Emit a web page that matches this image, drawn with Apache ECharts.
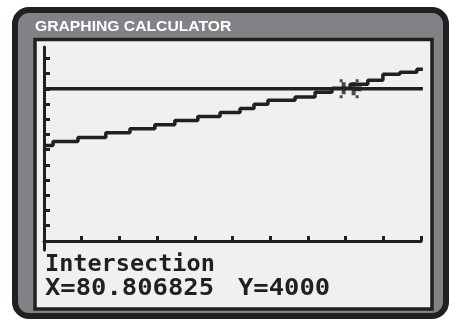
<!DOCTYPE html>
<html><head><meta charset="utf-8">
<script src="https://cdn.jsdelivr.net/npm/echarts@6/dist/echarts.min.js"></script>
<style>html,body{margin:0;padding:0;background:#ffffff}#c{width:449px;height:321px}</style>
</head><body><div id="c"></div>
<script>
// ---- data ----
const titleText = 'GRAPHING CALCULATOR';
const statusLabel = 'Intersection';
const intersectX = 80.806825;
const intersectY = 4000;
// stair-stepped graph of the rising curve (start of each pixel step, value of that step)
const stepX = [0, 2.4, 9.0, 16.4, 22.8, 29.4, 34.7, 40.8, 46.7, 52.0, 55.7, 59.4, 66.6, 71.9, 76.4, 81.2, 85.9, 89.9, 94.4, 98.9, 100.5];
const stepY = [2508, 2614, 2719, 2844, 2949, 3055, 3168, 3274, 3380, 3485, 3591, 3696, 3784, 3908, 4013, 4119, 4224, 4383, 4436, 4515, 4515];
// horizontal line y = 4000
const levelX = [0, 100.5];
const levelY = [4000, 4000];
// tick marks (Xscl = 10, Yscl = 400)
const xTickValues = [10, 20, 30, 40, 50, 60, 70, 80, 90, 100];
const yTickValues = [400, 800, 1200, 1600, 2000, 2400, 2800, 3200, 3600, 4000, 4400, 4800];

const INK = '#231f20', BEZEL = '#808285', SCREEN = '#eef0f2';

const chart = echarts.init(document.getElementById('c'), null, {renderer: 'canvas'});
const cursorPath = 'path://M2,0h3v3h-3z M4,3h4v12h-4z M2,16h3v3h-3z M14,3h4v13h-4z M18,0h3v3h-3z M18,16h3v3h-3z M17,7h7v5h-7z';

chart.setOption({
  animation: false,
  backgroundColor: '#ffffff',
  grid: {left: 44, right: 28, top: 47, bottom: 71, containLabel: false},
  xAxis: {
    type: 'value', min: 0, max: 100,
    axisLine: {show: true, onZero: true, lineStyle: {color: INK, width: 3}},
    axisTick: {show: true, inside: true, length: 5, customValues: xTickValues, lineStyle: {color: INK, width: 3}},
    axisLabel: {show: false}, splitLine: {show: false}
  },
  yAxis: {
    type: 'value', min: -240, max: 5100,
    axisLine: {show: true, onZero: true, lineStyle: {color: INK, width: 3}},
    axisTick: {show: true, inside: true, length: 6, customValues: yTickValues, lineStyle: {color: INK, width: 3}},
    axisLabel: {show: false}, splitLine: {show: false}
  },
  graphic: [
    {type: 'rect', z: -10, shape: {x: 15, y: 10, width: 431, height: 306, r: 14},
     style: {fill: BEZEL, stroke: INK, lineWidth: 6}},
    {type: 'rect', z: -9, shape: {x: 35, y: 39.5, width: 397, height: 269.5},
     style: {fill: SCREEN, stroke: INK, lineWidth: 3.5}},
    {type: 'text', z: 50, x: 35, y: 27, scaleX: 1.12,
     style: {text: titleText, fill: '#ffffff', font: 'bold 14px "Liberation Sans", Arial, sans-serif', verticalAlign: 'middle'}},
    {type: 'text', z: 50, x: 45, y: 265,
     style: {text: statusLabel, fill: INK, font: 'bold 23.5px "DejaVu Sans Mono", monospace', verticalAlign: 'middle'}},
    {type: 'text', z: 50, x: 45, y: 289, scaleX: 1.11,
     style: {text: 'X=' + intersectX.toFixed(6), fill: INK, font: 'bold 23px "DejaVu Sans Mono", monospace', verticalAlign: 'middle'}},
    {type: 'text', z: 50, x: 238, y: 289, scaleX: 1.11,
     style: {text: 'Y=' + intersectY, fill: INK, font: 'bold 23px "DejaVu Sans Mono", monospace', verticalAlign: 'middle'}}
  ],
  series: [
    {type: 'line', data: levelX.map((x, i) => [x, levelY[i]]), symbol: 'none', clip: false,
     lineStyle: {color: INK, width: 3.5}},
    {type: 'line', step: 'end', data: stepX.map((x, i) => [x, stepY[i]]), symbol: 'none', clip: false,
     lineStyle: {color: INK, width: 3.5}},
    {type: 'scatter', data: [[intersectX, intersectY]], symbol: 'rect', symbolSize: [6, 10],
     itemStyle: {color: SCREEN}, silent: true},
    {type: 'scatter', data: [[intersectX, intersectY]], symbol: cursorPath, symbolSize: [22, 19], symbolOffset: [2, 0],
     itemStyle: {color: INK}, silent: true}
  ]
});
</script></body></html>
